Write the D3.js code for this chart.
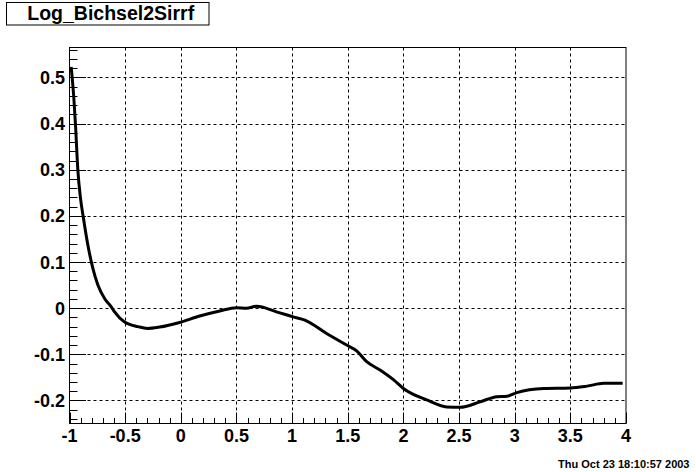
<!DOCTYPE html>
<html><head><meta charset="utf-8">
<script src="https://cdn.jsdelivr.net/npm/d3@7"></script>
<style>html,body{margin:0;padding:0;background:#fff;}svg{display:block;}</style>
</head><body>
<svg id="c" width="696" height="472"></svg>
<script>
const title = "Log_Bichsel2Sirrf";
const dateText = "Thu Oct 23 18:10:57 2003";
const xVals = [-0.985,-0.961,-0.946,-0.925,-0.901,-0.874,-0.835,-0.79,-0.745,-0.685,-0.625,-0.595,-0.505,-0.385,-0.30,-0.19,-0.01,0.17,0.35,0.5,0.59,0.68,0.86,1.01,1.115,1.31,1.49,1.58,1.67,1.79,1.91,2.0,2.21,2.39,2.51,2.69,2.84,2.93,3.02,3.26,3.5,3.65,3.80,3.97];
const yVals = [0.523,0.455,0.397,0.299,0.238,0.194,0.137,0.086,0.050,0.021,0.003,-0.008,-0.030,-0.040,-0.044,-0.041,-0.031,-0.017,-0.006,0.001,0.0,0.004,-0.008,-0.019,-0.026,-0.055,-0.080,-0.0925,-0.116,-0.134,-0.155,-0.174,-0.199,-0.214,-0.215,-0.203,-0.192,-0.191,-0.183,-0.174,-0.173,-0.169,-0.163,-0.163];
const xTicks = [-1,-0.5,0,0.5,1,1.5,2,2.5,3,3.5,4];
const xTickLabels = ["-1","-0.5","0","0.5","1","1.5","2","2.5","3","3.5","4"];
const yTicks = [-0.2,-0.1,0,0.1,0.2,0.3,0.4,0.5];
const yTickLabels = ["-0.2","-0.1","0","0.1","0.2","0.3","0.4","0.5"];
const xDomain = [-1,4];
const yDomain = [-0.25,0.565];

const svg = d3.select("#c");
const L=69.5, R=626, T=47.5, B=423.5;
const x = d3.scaleLinear().domain(xDomain).range([L,R]);
const y = d3.scaleLinear().domain(yDomain).range([B,T]);
const font = "'Liberation Sans', Arial, Helvetica, sans-serif";

// grid
const g = svg.append("g");
xTicks.filter(v=>v>xDomain[0]&&v<xDomain[1]).forEach(v=>{
  const px=Math.round(x(v))+0.5;
  g.append("line").attr("x1",px).attr("x2",px).attr("y1",T).attr("y2",B)
   .attr("stroke","#000").attr("stroke-width",1).attr("stroke-dasharray","3,3");
});
yTicks.forEach(v=>{
  const py=Math.round(y(v))+0.5;
  g.append("line").attr("x1",L).attr("x2",R).attr("y1",py).attr("y2",py)
   .attr("stroke","#000").attr("stroke-width",1).attr("stroke-dasharray","3,3");
});

// ticks
const xMinor = d3.range(-1,4.0001,0.1);
xMinor.forEach(v=>{
  const major = Math.abs(v*2-Math.round(v*2))<1e-6;
  const px=Math.round(x(v))+0.5;
  svg.append("line").attr("x1",px).attr("x2",px).attr("y1",B).attr("y2",B-(major?11:5.5))
   .attr("stroke","#000").attr("stroke-width",1);
});
const yMinor = d3.range(-0.24,0.5601,0.02);
yMinor.forEach(v=>{
  const major = Math.abs(v*10-Math.round(v*10))<1e-6;
  const py=Math.round(y(v))+0.5;
  svg.append("line").attr("x1",L).attr("x2",L+(major?16.5:8)).attr("y1",py).attr("y2",py)
   .attr("stroke","#000").attr("stroke-width",1);
});

// frame
svg.append("rect").attr("x",L).attr("y",T).attr("width",R-L).attr("height",B-T)
  .attr("fill","none").attr("stroke","#000").attr("stroke-width",1);

// tick labels
xTicks.forEach((v,i)=>{
  svg.append("text").attr("x",x(v)).attr("y",442).attr("text-anchor","middle")
   .attr("font-family",font).attr("font-weight","bold").attr("font-size",18)
   .text(xTickLabels[i]);
});
yTicks.forEach((v,i)=>{
  svg.append("text").attr("x",65).attr("y",y(v)+6.5).attr("text-anchor","end")
   .attr("font-family",font).attr("font-weight","bold").attr("font-size",18)
   .text(yTickLabels[i]);
});

// curve
const pts = xVals.map((v,i)=>[v,yVals[i]]);
svg.append("path").datum(pts)
  .attr("d", d3.line().x(d=>x(d[0])).y(d=>y(d[1])).curve(d3.curveMonotoneX))
  .attr("fill","none").attr("stroke","#000").attr("stroke-width",3)
  .attr("stroke-linejoin","round");

// title box
svg.append("rect").attr("x",6.5).attr("y",2.5).attr("width",202.5).attr("height",22.5)
  .attr("fill","#fff").attr("stroke","#000").attr("stroke-width",1);
svg.append("text").attr("x",110.7).attr("y",20).attr("text-anchor","middle")
  .attr("font-family",font).attr("font-weight","bold").attr("font-size",19.5)
  .text(title);

// date
svg.append("text").attr("x",689.5).attr("y",468).attr("text-anchor","end")
  .attr("font-family",font).attr("font-weight","bold").attr("font-size",11)
  .text(dateText);
</script>
</body></html>
